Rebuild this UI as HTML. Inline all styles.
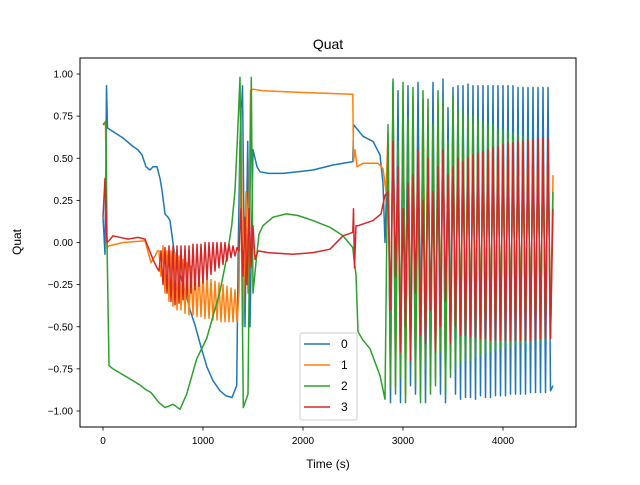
<!DOCTYPE html>
<html><head><meta charset="utf-8"><style>
body{margin:0;background:#fff}
svg text{font-family:"Liberation Sans","DejaVu Sans",sans-serif;fill:#000}
</style></head><body>
<svg id="chart" width="640" height="480" xmlns="http://www.w3.org/2000/svg">
<defs><clipPath id="clip"><rect x="80" y="58" width="496" height="369"/></clipPath></defs>
<rect x="0" y="0" width="640" height="480" fill="#fff"/>
<text x="328" y="49" font-size="14" text-anchor="middle">Quat</text>
<g id="series" clip-path="url(#clip)"></g>
<g id="axes"></g>
<rect x="80" y="58" width="496" height="369" fill="none" stroke="#000" stroke-width="1"/>
<text x="328" y="468" font-size="12" text-anchor="middle">Time (s)</text>
<text transform="translate(21,242) rotate(-90)" font-size="12" text-anchor="middle">Quat</text>
<g id="legend"></g>
</svg>
<script>
const xTicks=[0,1000,2000,3000,4000];
const yTicks=[-1,-0.75,-0.5,-0.25,0,0.25,0.5,0.75,1];
const seriesNames=["0","1","2","3"];
const colors=["#1f77b4","#ff7f0e","#2ca02c","#d62728"];
const oscT=[];for(let i=0;i<67;i++)oscT.push(2850+25*i);
const band1T=[];for(let i=0;i<41;i++)band1T.push(560+20*i);

const blueT=[0,20,35,45,70,200,300,350,390,430,470,500,540,570,590,620,650,670,720,770,840,870,920,980,1040,1100,1170,1230,1290,1337,1353,1370,1395,1420,1447,1470,1500,1540,1570,1650,1800,1950,2100,2300,2498,2505,2600,2700,2770,2800,2820];
const blueV=[0.15,-0.07,0.93,0.68,0.67,0.62,0.57,0.55,0.52,0.45,0.43,0.45,0.45,0.38,0.31,0.17,0.15,0.13,-0.09,-0.19,-0.33,-0.40,-0.49,-0.62,-0.74,-0.82,-0.88,-0.91,-0.92,-0.85,0.0,0.60,0.93,-0.50,0.60,-0.50,0.55,0.45,0.42,0.41,0.41,0.42,0.43,0.46,0.48,0.70,0.63,0.60,0.52,0.35,0.0];
const blueOsc=[0.60,-0.95,0.95,-0.70,0.90,-0.95,0.80,-0.50,0.93,-0.85,
0.60,-0.90,0.95,-0.60,0.85,-0.95,0.70,-0.80,0.95,-0.75,
0.60,-0.90,0.97,-0.95,0.80,-0.60,0.92,-0.90,0.93,-0.93,
0.93,-0.92,0.94,-0.92,0.93,-0.93,0.93,-0.91,0.93,-0.92,
0.93,-0.92,0.93,-0.91,0.93,-0.91,0.93,-0.91,0.93,-0.90,
0.93,-0.90,0.92,-0.90,0.92,-0.90,0.92,-0.89,0.92,-0.89,
0.92,-0.89,0.92,-0.89,0.92,-0.88,-0.85];

const orangePreT=[0,25,40,60,200,420,480,520,545];
const orangePreV=[0.70,0.70,-0.03,-0.02,0.00,0.01,-0.12,-0.08,-0.05];
const orangeBand=[-0.05,-0.20,-0.02,-0.30,-0.05,-0.35,-0.05,-0.38,-0.06,-0.40,
-0.08,-0.40,-0.10,-0.42,-0.12,-0.43,-0.14,-0.43,-0.16,-0.44,
-0.17,-0.44,-0.19,-0.45,-0.20,-0.45,-0.22,-0.46,-0.23,-0.46,
-0.24,-0.47,-0.25,-0.47,-0.26,-0.47,-0.27,-0.47,-0.28,-0.47,-0.30];
const orangePostT=[1380,1400,1430,1450,1475,1500,1600,2000,2498,2505,2520,2540,2600,2750,2800,2830];
const orangePostV=[0.80,-0.50,0.30,-0.30,0.90,0.91,0.90,0.89,0.88,0.48,0.55,0.45,0.47,0.47,0.44,0.30];
const orangeOsc=[0.65,-0.80,0.90,-0.85,0.55,-0.75,0.90,-0.90,0.70,-0.65,
0.87,-0.80,0.50,-0.90,0.85,-0.70,0.80,-0.85,0.65,-0.80,
0.85,-0.60,0.80,-0.85,0.55,-0.75,0.83,-0.70,0.75,-0.68,
0.73,-0.66,0.72,-0.66,0.70,-0.64,0.70,-0.63,0.68,-0.62,
0.67,-0.61,0.66,-0.60,0.64,-0.59,0.63,-0.58,0.62,-0.58,
0.61,-0.57,0.60,-0.56,0.59,-0.56,0.58,-0.55,0.57,-0.54,
0.56,-0.54,0.56,-0.53,0.55,-0.53,0.40];

const greenT=[0,30,40,60,100,300,380,420,480,560,620,700,770,837,937,1037,1103,1170,1237,1287,1320,1343,1370,1403,1450,1483,1500,1533,1560,1600,1700,1833,1950,2100,2270,2400,2498,2510,2530,2550,2600,2670,2770,2820];
const greenV=[0.70,0.72,0.0,-0.73,-0.75,-0.82,-0.85,-0.87,-0.89,-0.95,-0.98,-0.96,-0.99,-0.90,-0.69,-0.57,-0.43,-0.29,-0.09,0.10,0.31,0.60,0.98,-0.98,-0.90,0.98,-0.30,-0.10,0.05,0.10,0.15,0.17,0.16,0.13,0.09,0.04,-0.03,-0.10,-0.19,-0.53,-0.58,-0.63,-0.79,-0.93];
const greenOsc=[0.70,-0.85,0.97,-0.90,0.60,-0.80,0.95,-0.95,0.75,-0.70,
0.92,-0.85,0.55,-0.95,0.90,-0.75,0.85,-0.90,0.70,-0.85,
0.90,-0.65,0.85,-0.90,0.60,-0.80,0.88,-0.75,0.80,-0.72,
0.78,-0.70,0.76,-0.70,0.75,-0.68,0.74,-0.67,0.72,-0.66,
0.71,-0.65,0.70,-0.64,0.68,-0.63,0.67,-0.62,0.66,-0.62,
0.65,-0.61,0.64,-0.60,0.63,-0.60,0.62,-0.59,0.61,-0.58,
0.60,-0.58,0.60,-0.57,0.59,-0.57,0.30];

const redPreT=[0,20,40,60,100,250,350,420,500,540];
const redPreV=[0.15,0.38,0.00,0.01,0.04,0.02,0.03,0.02,-0.10,-0.15];
const redBand=[-0.17,-0.05,-0.25,-0.03,-0.30,-0.02,-0.35,-0.02,-0.37,-0.02,
-0.36,-0.02,-0.34,-0.02,-0.32,-0.02,-0.30,-0.01,-0.28,-0.01,
-0.26,-0.01,-0.24,0.00,-0.22,0.00,-0.19,0.00,-0.17,0.00,
-0.15,0.00,-0.13,0.00,-0.11,-0.01,-0.09,-0.02,-0.08,-0.03,-0.05];
const redPostT=[1380,1400,1420,1440,1460,1480,1500,1520,1550,1650,1900,2100,2270,2400,2498,2505,2515,2530,2550,2700,2780,2820];
const redPostV=[0.20,-0.20,0.15,-0.25,0.20,-0.15,0.10,-0.10,-0.05,-0.06,-0.07,-0.06,-0.04,0.04,0.06,0.20,-0.15,0.10,0.10,0.13,0.17,0.28];
const redOsc=[0.30,-0.40,0.60,-0.20,0.45,-0.65,0.20,-0.50,0.35,-0.70,
0.40,-0.30,0.55,-0.55,0.25,-0.60,0.50,-0.40,0.30,-0.65,
0.45,-0.50,0.55,-0.35,0.40,-0.60,0.45,-0.50,0.50,-0.55,
0.48,-0.55,0.50,-0.56,0.52,-0.56,0.53,-0.57,0.54,-0.57,
0.55,-0.58,0.56,-0.58,0.57,-0.58,0.58,-0.58,0.59,-0.58,
0.59,-0.58,0.60,-0.58,0.60,-0.58,0.61,-0.58,0.61,-0.58,
0.62,-0.57,0.62,-0.57,0.62,-0.57,0.20];

const NS="http://www.w3.org/2000/svg";
function xs(t){return 103+t*0.1;}
function ys(v){return 242.5-168.5*v;}
function mk(tag,attrs,parent){const e=document.createElementNS(NS,tag);for(const k in attrs)e.setAttribute(k,attrs[k]);parent.appendChild(e);return e;}

const allSeries=[
 {t:blueT.concat(oscT),v:blueV.concat(blueOsc)},
 {t:orangePreT.concat(band1T,orangePostT,oscT),v:orangePreV.concat(orangeBand,orangePostV,orangeOsc)},
 {t:greenT.concat(oscT),v:greenV.concat(greenOsc)},
 {t:redPreT.concat(band1T,redPostT,oscT),v:redPreV.concat(redBand,redPostV,redOsc)}
];
const sg=document.getElementById('series');
allSeries.forEach((s,i)=>{
  let d='';
  for(let j=0;j<s.t.length;j++)d+=(j?'L':'M')+xs(s.t[j]).toFixed(1)+' '+ys(s.v[j]).toFixed(1);
  const p=mk('path',{d:d,fill:'none',stroke:colors[i],'stroke-width':1.5,'stroke-linejoin':'round'},sg);
  
  
});

const ax=document.getElementById('axes');
xTicks.forEach(t=>{
  const x=xs(t);
  const l=mk('line',{x1:x,x2:x,y1:427,y2:430.5,stroke:'#000','stroke-width':0.8},ax);
  
  
  const tx=mk('text',{x:x,y:444,'font-size':10,'text-anchor':'middle'},ax);
  tx.textContent=String(t);
  
  
});
yTicks.forEach(v=>{
  const y=ys(v);
  const l=mk('line',{x1:76.5,x2:80,y1:y,y2:y,stroke:'#000','stroke-width':0.8},ax);
  
  
  const tx=mk('text',{x:73,y:y+3.5,'font-size':10,'text-anchor':'end'},ax);
  tx.textContent=(v<0?'\u2212':'')+Math.abs(v).toFixed(2);
  
  
});

const lg=document.getElementById('legend');
const box=mk('rect',{x:300,y:333,width:57,height:87,rx:2,fill:'#fff','fill-opacity':0.8,stroke:'#ccc','stroke-width':1},lg);


seriesNames.forEach((n,i)=>{
  const y=344+i*21;
  const l=mk('line',{x1:304,x2:330,y1:y,y2:y,stroke:colors[i],'stroke-width':1.5},lg);
  
  
  const t=mk('text',{x:341,y:y+4,'font-size':12},lg);
  t.textContent=n;
  
  
});
</script>
</body></html>
